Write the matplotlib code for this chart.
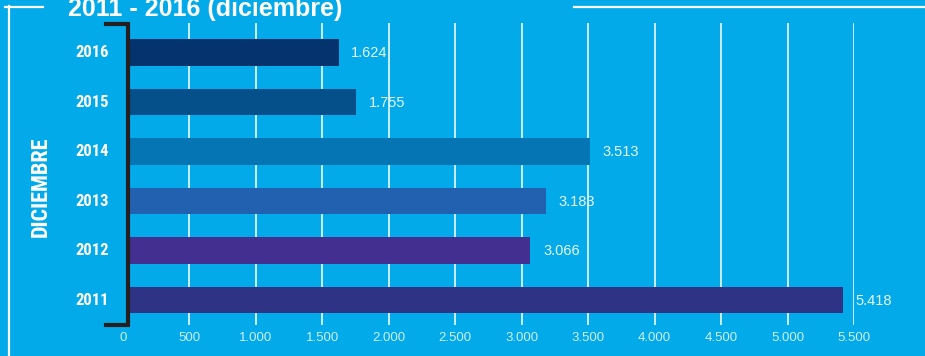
import matplotlib.pyplot as plt
from matplotlib.lines import Line2D
from matplotlib.patches import Rectangle

# data
years = ["2011", "2012", "2013", "2014", "2015", "2016"]
values = [5418, 3066, 3183, 3513, 1755, 1624]
labels = ["5.418", "3.066", "3.183", "3.513", "1.755", "1.624"]
colors = ["#2E3385", "#432F90", "#2260B0", "#0575B4", "#054F8A", "#05336E"]
ticks = [0, 500, 1000, 1500, 2000, 2500, 3000, 3500, 4000, 4500, 5000, 5500]
tick_labels = ["0", "500", "1.000", "1.500", "2.000", "2.500", "3.000",
               "3.500", "4.000", "4.500", "5.000", "5.500"]

W, H = 925, 356
bg = "#02AAE9"
fig = plt.figure(figsize=(W / 100, H / 100), dpi=100, facecolor=bg)

def fx(px):
    return px / W

def fy(py):
    return 1 - py / H

# axes placed in pixel terms: x=0 at 123px, 5500 at 854px; y from 23 to 325px
ax = fig.add_axes([fx(123), fy(325), fx(854 - 123), (325 - 23) / H])
ax.set_facecolor(bg)
ax.set_xlim(0, 5500)
ax.set_ylim(-0.505, 5.596)
for s in ax.spines.values():
    s.set_visible(False)
ax.set_yticks([])
ax.set_xticks([])

# grid lines
for t in ticks[1:]:
    ax.axvline(t, color="white", lw=1.1, zorder=1)

bars = ax.barh(range(len(years)), values, height=0.535, color=colors, zorder=2)
clip = Rectangle((fx(128), 0), 1, 1, transform=fig.transFigure)
for b in bars:
    b.set_clip_path(clip)

sans = ["Liberation Sans", "DejaVu Sans"]
for i, (v, lab) in enumerate(zip(values, labels)):
    ax.annotate(lab, (v, i), xytext=(9, -0.5), textcoords="offset points",
                color="#E8F6FD", fontsize=10.5, family=sans,
                va="center", ha="left", zorder=3)

# x tick labels
for t, lab in zip(ticks, tick_labels):
    ax.text(t, -0.76, lab, color="#CDEEFB", fontsize=9.5, family=sans,
            ha="center", va="center", clip_on=False)

# year labels
narrow = ["Roboto Condensed", "DejaVu Sans"]
for i, y in enumerate(years):
    ax.text(-233, i, y, color="white", fontsize=12, fontweight="bold",
            family=narrow, fontstretch="condensed",
            ha="center", va="center", clip_on=False)

fig.text(fx(41), fy(186.5), "DICIEMBRE", color="white", fontsize=16,
         fontweight="bold", family=narrow, fontstretch="condensed",
         rotation=90, ha="center", va="center")

# title
fig.text(fx(68), fy(16), "2011 - 2016 (diciembre)", color="white",
         fontsize=18, fontweight="bold", family=sans,
         ha="left", va="baseline")

# frame lines
fig.add_artist(Line2D([fx(5), fx(43)], [fy(6.5), fy(6.5)], color="white", lw=1.6))
fig.add_artist(Line2D([fx(8.5), fx(8.5)], [fy(6), fy(356)], color="white", lw=1.6))
fig.add_artist(Line2D([fx(574), fx(925)], [fy(6.5), fy(6.5)], color="white", lw=1.6))

# bracket
fig.add_artist(Line2D([fx(106), fx(127.5), fx(127.5), fx(106)],
                      [fy(24), fy(24), fy(325), fy(325)],
                      color="#231F20", lw=3, solid_joinstyle="miter"))

fig.savefig("out.png", dpi=100, facecolor=bg)
